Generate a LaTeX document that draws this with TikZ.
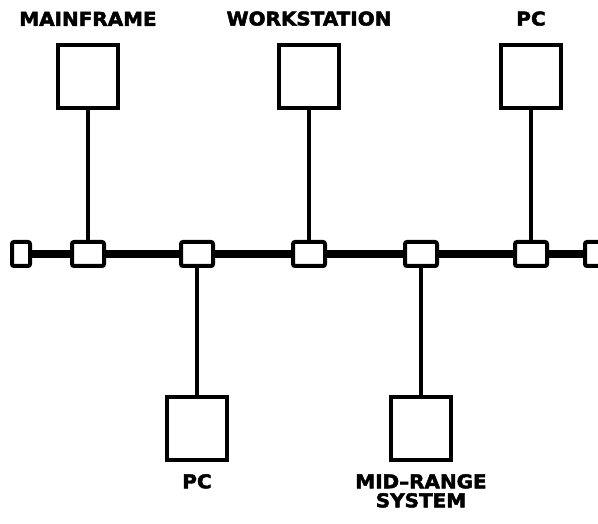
\documentclass[tikz,border=0pt]{standalone}
\usepackage{fontspec}
\setsansfont{DejaVu Sans}[FakeStretch=1.05, BoldFeatures={FakeBold=2.5}]
\usetikzlibrary{positioning}
\tikzset{
  host/.style={draw, line width=4pt, minimum width=60pt, minimum height=63pt, inner sep=0pt},
  tap/.style={draw, fill=white, line width=4pt, minimum width=32pt, minimum height=24pt, inner sep=0pt, rounded corners=2pt},
  term/.style={tap, minimum width=18pt},
  lbl/.style={font=\sffamily\bfseries\fontsize{19}{19}\selectfont, align=center, inner sep=0pt},
  link/.style={line width=3.5pt}
}
\begin{document}
\begin{tikzpicture}[x=1pt, y=-1pt]
    \useasboundingbox (0,0) rectangle (598,524);
    % bus with its two end terminators
    \node[term] (tl) at (21,254) {};
    \node[term] (tr) at (594,254) {};
    \draw[line width=8pt] (tl) -- (tr);
    \foreach \n/\x in {t1/88, t2/197, t3/309, t4/421, t5/531}
        \node[tap] (\n) at (\x,254) {};
    % stations above the bus
    \node[host] (mf) at (88,76.5) {};
    \node[host] (ws) at (309,76.5) {};
    \node[host] (pca) at (531,76.5) {};
    \node[lbl, above=17pt of mf] {MAINFRAME};
    \node[lbl, above=17pt of ws] {WORKSTATION};
    \node[lbl, above=17pt of pca] {PC};
    % stations below the bus
    \node[host] (pcb) at (197,428.5) {};
    \node[host] (mr) at (421,428.5) {};
    \node[lbl, below=12pt of pcb] {PC};
    \node[lbl, below=12pt of mr] {MID--RANGE\\SYSTEM};
    \draw[link] (mf) -- (t1);
    \draw[link] (ws) -- (t3);
    \draw[link] (pca) -- (t5);
    \draw[link] (t2) -- (pcb);
    \draw[link] (t4) -- (mr);
\end{tikzpicture}
\end{document}
